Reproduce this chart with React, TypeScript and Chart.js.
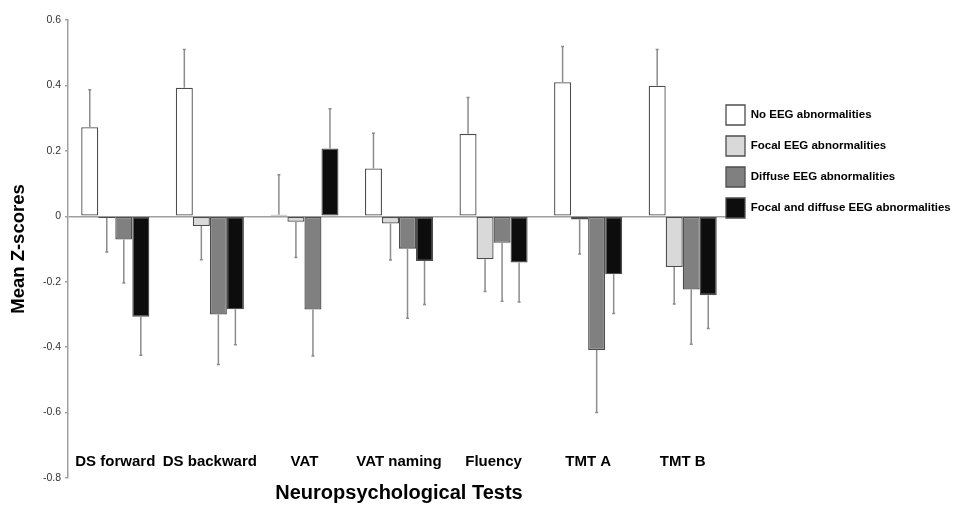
import React, { useEffect, useRef } from "react";
import { Chart, registerables } from "chart.js";

Chart.register(...registerables);

const categories = ["DS forward", "DS backward", "VAT", "VAT naming", "Fluency", "TMT A", "TMT B"];
const seriesNames = [
  "No EEG abnormalities",
  "Focal EEG abnormalities",
  "Diffuse EEG abnormalities",
  "Focal and diffuse EEG abnormalities",
];
const noEeg = [0.272, 0.393, 0.005, 0.146, 0.252, 0.41, 0.399];
const focalEeg = [-0.005, -0.03, -0.017, -0.022, -0.131, -0.01, -0.155];
const diffuseEeg = [-0.071, -0.3, -0.285, -0.099, -0.081, -0.409, -0.224];
const focalDiffuseEeg = [-0.307, -0.284, 0.207, -0.137, -0.141, -0.177, -0.241];

const noEegErr = [0.115, 0.117, 0.122, 0.108, 0.111, 0.109, 0.111];
const focalEegErr = [0.104, 0.103, 0.109, 0.112, 0.099, 0.105, 0.113];
const diffuseEegErr = [0.133, 0.153, 0.142, 0.213, 0.179, 0.191, 0.167];
const focalDiffuseEegErr = [0.118, 0.109, 0.122, 0.133, 0.121, 0.12, 0.102];

const yTickValues = [0.6, 0.4, 0.2, 0, -0.2, -0.4, -0.6, -0.8];
const yTickLabels = ["0.6", "0.4", "0.2", "0", "-0.2", "-0.4", "-0.6", "-0.8"];

const seriesValues = [noEeg, focalEeg, diffuseEeg, focalDiffuseEeg];
const seriesErrors = [noEegErr, focalEegErr, diffuseEegErr, focalDiffuseEegErr];
const seriesColors = ["#ffffff", "#d9d9d9", "#808080", "#0d0d0d"];

const FONT = "'Liberation Sans', Arial, Helvetica, sans-serif";

const errorBarPlugin = {
  id: "errorBars",
  afterDatasetsDraw(chart: any) {
    const ctx = chart.ctx;
    const yScale = chart.scales.y;
    chart.data.datasets.forEach((ds: any, di: number) => {
      const meta = chart.getDatasetMeta(di);
      const errs = seriesErrors[di];
      meta.data.forEach((bar: any, i: number) => {
        const v = ds.data[i] as number;
        const e = errs[i];
        const end = v >= 0 ? v + e : v - e;
        const x = bar.x;
        const y0 = bar.y;
        const y1 = yScale.getPixelForValue(end);
        ctx.save();
        ctx.strokeStyle = "#8c8c8c";
        ctx.lineWidth = 1.5;
        ctx.beginPath();
        ctx.moveTo(x, y0);
        ctx.lineTo(x, y1);
        ctx.moveTo(x - 1.5, y1);
        ctx.lineTo(x + 1.5, y1);
        ctx.stroke();
        ctx.restore();
      });
    });
  },
};

const legendPlacer = {
  id: "legendPlacer",
  beforeDraw(chart: any) {
    const lg = chart.legend;
    if (!lg) return;
    lg.left = 715;
    lg.right = chart.width;
    lg.top = 94;
  },
};

export default function App() {
  const canvasRef = useRef<HTMLCanvasElement | null>(null);

  useEffect(() => {
    if (!canvasRef.current) return;
    Chart.defaults.font.family = FONT;
    const chart = new Chart(canvasRef.current, {
      type: "bar",
      data: {
        labels: categories,
        datasets: seriesNames.map((name, i) => ({
          label: name,
          data: seriesValues[i],
          backgroundColor: seriesColors[i],
          borderColor: "#4d4d4d",
          borderWidth: 1.3,
          borderSkipped: false,
          categoryPercentage: 0.72,
          barPercentage: 1.0,
        })),
      },
      options: {
        responsive: false,
        animation: false,
        layout: { padding: { top: 20, right: 0, bottom: 0, left: 0 } },
        plugins: {
          tooltip: { enabled: false },
          legend: {
            position: "right",
            align: "start",
            maxWidth: 225,
            labels: {
              boxWidth: 19,
              boxHeight: 20,
              padding: 11,
              color: "#000",
              font: { family: FONT, size: 11.5, weight: "bold" },
            },
          },
        },
        scales: {
          x: {
            grid: { display: false, drawTicks: false },
            border: { display: false },
            ticks: {
              color: "#000",
              mirror: true,
              padding: 7,
              maxRotation: 0,
              autoSkip: false,
              font: { family: FONT, size: 15, weight: "bold" },
            },
            title: {
              display: true,
              text: "Neuropsychological Tests",
              color: "#000",
              font: { family: FONT, size: 20, weight: "bold" },
              padding: { top: 0, bottom: 4 },
            },
            afterFit: (s: any) => {
              s.height = 31;
            },
          },
          y: {
            min: -0.8,
            max: 0.6,
            afterBuildTicks: (s: any) => {
              s.ticks = yTickValues.map((v) => ({ value: v }));
            },
            ticks: {
              color: "#333",
              padding: 4,
              font: { family: FONT, size: 10.5 },
              callback: (value: any) => {
                const idx = yTickValues.findIndex((t) => Math.abs(t - Number(value)) < 1e-9);
                return idx >= 0 ? yTickLabels[idx] : "";
              },
            },
            grid: {
              color: (c: any) => (c.tick && Math.abs(c.tick.value) < 1e-9 ? "#a0a0a0" : "rgba(0,0,0,0)"),
              tickColor: "#a0a0a0",
              tickLength: 3,
              lineWidth: 1.5,
            },
            border: { display: true, color: "#a0a0a0", width: 1.5 },
            title: {
              display: true,
              text: "Mean Z-scores",
              color: "#000",
              font: { family: FONT, size: 18.5, weight: "bold" },
              padding: { top: 8, bottom: 0 },
            },
            afterFit: (s: any) => {
              s.width = 68;
            },
          },
        },
      },
      plugins: [errorBarPlugin, legendPlacer],
    });
    return () => chart.destroy();
  }, []);

  return (
    <div style={{ position: "absolute", left: 0, top: 0, width: 955, height: 509, background: "#fff" }}>
      <canvas ref={canvasRef} width={955} height={509} />
    </div>
  );
}
